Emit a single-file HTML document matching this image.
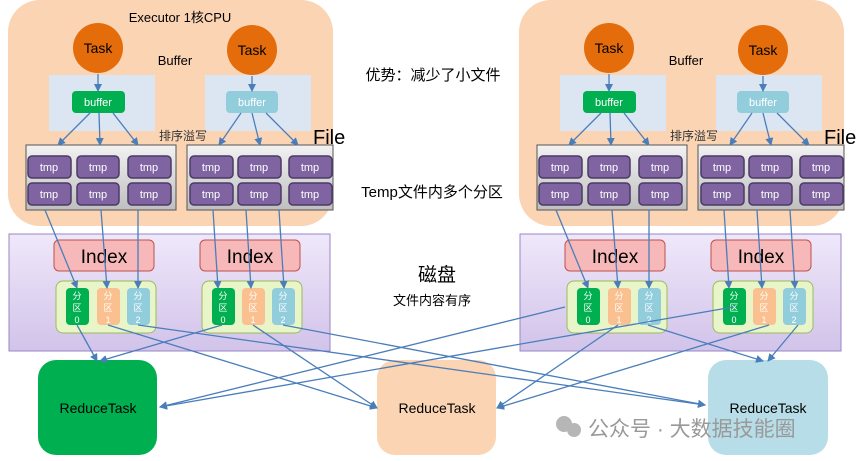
<!DOCTYPE html>
<html><head><meta charset="utf-8"><style>
body{margin:0;background:#fff}
svg{display:block}
text{font-family:"Liberation Sans","Noto Sans CJK SC",sans-serif}
</style></head><body>
<svg width="865" height="461" viewBox="0 0 865 461" xmlns="http://www.w3.org/2000/svg">
<defs>
<marker id="a" markerWidth="8" markerHeight="8" refX="7" refY="4" orient="auto" markerUnits="userSpaceOnUse"><path d="M0,0 L8,4 L0,8 z" fill="#4a7ebb"/></marker>
<linearGradient id="g" x1="0" y1="0" x2="0" y2="1"><stop offset="0" stop-color="#f2f2f2"/><stop offset="1" stop-color="#bfbfbf"/></linearGradient>
<linearGradient id="d" x1="0" y1="0" x2="0" y2="1"><stop offset="0" stop-color="#efe8fa"/><stop offset="1" stop-color="#d2c3ea"/></linearGradient>
</defs>
<g>
<rect x="8" y="0" width="325" height="226" rx="32" fill="#fbd4b4"/>
<circle cx="98" cy="48" r="25" fill="#e46c0a"/><text x="98" y="53" font-size="14" text-anchor="middle">Task</text>
<circle cx="252" cy="50" r="25" fill="#e46c0a"/><text x="252" y="55" font-size="14" text-anchor="middle">Task</text>
<text x="175" y="65" font-size="13" text-anchor="middle">Buffer</text>
<rect x="49" y="75" width="106" height="56" fill="#dce6f2"/>
<rect x="205" y="75" width="106" height="56" fill="#dce6f2"/>
<rect x="72" y="91" width="53" height="22" rx="4" fill="#00b050"/><text x="98" y="106" font-size="11" fill="#fff" text-anchor="middle">buffer</text>
<rect x="226" y="91" width="52" height="22" rx="4" fill="#92cddc"/><text x="252" y="106" font-size="11" fill="#fff" text-anchor="middle">buffer</text>
<text x="183" y="140" font-size="12" text-anchor="middle" fill="#333">排序溢写</text>
<text x="313" y="144" font-size="20">File</text>
<rect x="26" y="145" width="150" height="65" fill="url(#g)" stroke="#555"/>
<rect x="187" y="145" width="146" height="65" fill="url(#g)" stroke="#555"/>
<g fill="#8064a2" stroke="#4b3a66" stroke-width="1.5">
<rect x="28" y="156" width="43" height="22" rx="4"/><rect x="77" y="156" width="42" height="22" rx="4"/><rect x="128" y="156" width="43" height="22" rx="4"/>
<rect x="28" y="183" width="43" height="22" rx="4"/><rect x="77" y="183" width="42" height="22" rx="4"/><rect x="128" y="183" width="43" height="22" rx="4"/>
<rect x="190" y="156" width="43" height="22" rx="4"/><rect x="238" y="156" width="43" height="22" rx="4"/><rect x="289" y="156" width="43" height="22" rx="4"/>
<rect x="190" y="183" width="43" height="22" rx="4"/><rect x="238" y="183" width="43" height="22" rx="4"/><rect x="289" y="183" width="43" height="22" rx="4"/>
</g>
<g fill="#fff" font-size="11" text-anchor="middle">
<text x="49" y="171">tmp</text><text x="98" y="171">tmp</text><text x="149" y="171">tmp</text>
<text x="49" y="198">tmp</text><text x="98" y="198">tmp</text><text x="149" y="198">tmp</text>
<text x="211" y="171">tmp</text><text x="259" y="171">tmp</text><text x="310" y="171">tmp</text>
<text x="211" y="198">tmp</text><text x="259" y="198">tmp</text><text x="310" y="198">tmp</text>
</g>
<rect x="9" y="234" width="321" height="117" fill="url(#d)" stroke="#9a86c4"/>
<rect x="54" y="240" width="100" height="31" rx="5" fill="#f6b8b8" stroke="#c0504d"/><text x="104" y="263" font-size="19" text-anchor="middle">Index</text>
<rect x="200" y="240" width="100" height="31" rx="5" fill="#f6b8b8" stroke="#c0504d"/><text x="250" y="263" font-size="19" text-anchor="middle">Index</text>
<rect x="56" y="281" width="100" height="52" rx="7" fill="#e8f5c8" stroke="#9bbb59"/>
<rect x="202" y="281" width="100" height="52" rx="7" fill="#e8f5c8" stroke="#9bbb59"/>
<rect x="66" y="288" width="23" height="37" rx="4" fill="#00b050"/><rect x="97" y="288" width="23" height="37" rx="4" fill="#fac090"/><rect x="127" y="288" width="23" height="37" rx="4" fill="#92cddc"/>
<rect x="212" y="288" width="23" height="37" rx="4" fill="#00b050"/><rect x="242" y="288" width="23" height="37" rx="4" fill="#fac090"/><rect x="272" y="288" width="23" height="37" rx="4" fill="#92cddc"/>
<g fill="#fff" font-size="9" text-anchor="middle">
<text x="77" y="299">分</text><text x="77" y="311">区</text><text x="77" y="323">0</text>
<text x="108" y="299">分</text><text x="108" y="311">区</text><text x="108" y="323">1</text>
<text x="138" y="299">分</text><text x="138" y="311">区</text><text x="138" y="323">2</text>
<text x="223" y="299">分</text><text x="223" y="311">区</text><text x="223" y="323">0</text>
<text x="253" y="299">分</text><text x="253" y="311">区</text><text x="253" y="323">1</text>
<text x="283" y="299">分</text><text x="283" y="311">区</text><text x="283" y="323">2</text>
</g>
<g stroke="#4a7ebb" stroke-width="1.3" fill="none" marker-end="url(#a)">
<line x1="98" y1="74" x2="98" y2="91"/><line x1="252" y1="76" x2="252" y2="91"/>
<line x1="90" y1="113" x2="58" y2="145"/><line x1="99" y1="113" x2="100" y2="145"/><line x1="113" y1="113" x2="138" y2="145"/>
<line x1="241" y1="113" x2="219" y2="145"/><line x1="252" y1="113" x2="260" y2="145"/><line x1="266" y1="113" x2="298" y2="145"/>
<line x1="45" y1="210" x2="77" y2="288"/><line x1="101" y1="210" x2="107" y2="288"/><line x1="138" y1="210" x2="138" y2="288"/>
<line x1="213" y1="210" x2="218" y2="288"/><line x1="246" y1="210" x2="251" y2="288"/><line x1="279" y1="210" x2="284" y2="288"/>
</g>
</g>
<g transform="translate(511,0)">
<rect x="8" y="0" width="325" height="226" rx="32" fill="#fbd4b4"/>
<circle cx="98" cy="48" r="25" fill="#e46c0a"/><text x="98" y="53" font-size="14" text-anchor="middle">Task</text>
<circle cx="252" cy="50" r="25" fill="#e46c0a"/><text x="252" y="55" font-size="14" text-anchor="middle">Task</text>
<text x="175" y="65" font-size="13" text-anchor="middle">Buffer</text>
<rect x="49" y="75" width="106" height="56" fill="#dce6f2"/>
<rect x="205" y="75" width="106" height="56" fill="#dce6f2"/>
<rect x="72" y="91" width="53" height="22" rx="4" fill="#00b050"/><text x="98" y="106" font-size="11" fill="#fff" text-anchor="middle">buffer</text>
<rect x="226" y="91" width="52" height="22" rx="4" fill="#92cddc"/><text x="252" y="106" font-size="11" fill="#fff" text-anchor="middle">buffer</text>
<text x="183" y="140" font-size="12" text-anchor="middle" fill="#333">排序溢写</text>
<text x="313" y="144" font-size="20">File</text>
<rect x="26" y="145" width="150" height="65" fill="url(#g)" stroke="#555"/>
<rect x="187" y="145" width="146" height="65" fill="url(#g)" stroke="#555"/>
<g fill="#8064a2" stroke="#4b3a66" stroke-width="1.5">
<rect x="28" y="156" width="43" height="22" rx="4"/><rect x="77" y="156" width="42" height="22" rx="4"/><rect x="128" y="156" width="43" height="22" rx="4"/>
<rect x="28" y="183" width="43" height="22" rx="4"/><rect x="77" y="183" width="42" height="22" rx="4"/><rect x="128" y="183" width="43" height="22" rx="4"/>
<rect x="190" y="156" width="43" height="22" rx="4"/><rect x="238" y="156" width="43" height="22" rx="4"/><rect x="289" y="156" width="43" height="22" rx="4"/>
<rect x="190" y="183" width="43" height="22" rx="4"/><rect x="238" y="183" width="43" height="22" rx="4"/><rect x="289" y="183" width="43" height="22" rx="4"/>
</g>
<g fill="#fff" font-size="11" text-anchor="middle">
<text x="49" y="171">tmp</text><text x="98" y="171">tmp</text><text x="149" y="171">tmp</text>
<text x="49" y="198">tmp</text><text x="98" y="198">tmp</text><text x="149" y="198">tmp</text>
<text x="211" y="171">tmp</text><text x="259" y="171">tmp</text><text x="310" y="171">tmp</text>
<text x="211" y="198">tmp</text><text x="259" y="198">tmp</text><text x="310" y="198">tmp</text>
</g>
<rect x="9" y="234" width="321" height="117" fill="url(#d)" stroke="#9a86c4"/>
<rect x="54" y="240" width="100" height="31" rx="5" fill="#f6b8b8" stroke="#c0504d"/><text x="104" y="263" font-size="19" text-anchor="middle">Index</text>
<rect x="200" y="240" width="100" height="31" rx="5" fill="#f6b8b8" stroke="#c0504d"/><text x="250" y="263" font-size="19" text-anchor="middle">Index</text>
<rect x="56" y="281" width="100" height="52" rx="7" fill="#e8f5c8" stroke="#9bbb59"/>
<rect x="202" y="281" width="100" height="52" rx="7" fill="#e8f5c8" stroke="#9bbb59"/>
<rect x="66" y="288" width="23" height="37" rx="4" fill="#00b050"/><rect x="97" y="288" width="23" height="37" rx="4" fill="#fac090"/><rect x="127" y="288" width="23" height="37" rx="4" fill="#92cddc"/>
<rect x="212" y="288" width="23" height="37" rx="4" fill="#00b050"/><rect x="242" y="288" width="23" height="37" rx="4" fill="#fac090"/><rect x="272" y="288" width="23" height="37" rx="4" fill="#92cddc"/>
<g fill="#fff" font-size="9" text-anchor="middle">
<text x="77" y="299">分</text><text x="77" y="311">区</text><text x="77" y="323">0</text>
<text x="108" y="299">分</text><text x="108" y="311">区</text><text x="108" y="323">1</text>
<text x="138" y="299">分</text><text x="138" y="311">区</text><text x="138" y="323">2</text>
<text x="223" y="299">分</text><text x="223" y="311">区</text><text x="223" y="323">0</text>
<text x="253" y="299">分</text><text x="253" y="311">区</text><text x="253" y="323">1</text>
<text x="283" y="299">分</text><text x="283" y="311">区</text><text x="283" y="323">2</text>
</g>
<g stroke="#4a7ebb" stroke-width="1.3" fill="none" marker-end="url(#a)">
<line x1="98" y1="74" x2="98" y2="91"/><line x1="252" y1="76" x2="252" y2="91"/>
<line x1="90" y1="113" x2="58" y2="145"/><line x1="99" y1="113" x2="100" y2="145"/><line x1="113" y1="113" x2="138" y2="145"/>
<line x1="241" y1="113" x2="219" y2="145"/><line x1="252" y1="113" x2="260" y2="145"/><line x1="266" y1="113" x2="298" y2="145"/>
<line x1="45" y1="210" x2="77" y2="288"/><line x1="101" y1="210" x2="107" y2="288"/><line x1="138" y1="210" x2="138" y2="288"/>
<line x1="213" y1="210" x2="218" y2="288"/><line x1="246" y1="210" x2="251" y2="288"/><line x1="279" y1="210" x2="284" y2="288"/>
</g>
</g>
<rect x="38" y="360" width="119" height="95" rx="18" fill="#00b050"/><text x="98" y="413" font-size="14" text-anchor="middle">ReduceTask</text>
<rect x="377" y="360" width="119" height="95" rx="18" fill="#fbd4b4"/><text x="437" y="413" font-size="14" text-anchor="middle">ReduceTask</text>
<rect x="708" y="360" width="120" height="95" rx="18" fill="#b7dee8"/><text x="768" y="413" font-size="14" text-anchor="middle">ReduceTask</text>
<g stroke="#4a7ebb" stroke-width="1.3" fill="none" marker-end="url(#a)">
<line x1="77" y1="325" x2="97" y2="361"/><line x1="222" y1="325" x2="100" y2="361"/>
<line x1="565" y1="307" x2="160" y2="407"/><line x1="733" y1="307" x2="160" y2="407"/>
<line x1="108" y1="325" x2="377" y2="408"/><line x1="253" y1="325" x2="377" y2="408"/>
<line x1="618" y1="325" x2="497" y2="408"/><line x1="769" y1="325" x2="497" y2="408"/>
<line x1="138" y1="325" x2="705" y2="405"/><line x1="283" y1="325" x2="705" y2="405"/>
<line x1="648" y1="325" x2="763" y2="361"/><line x1="798" y1="325" x2="768" y2="361"/>
</g>
<text x="180" y="22" font-size="13" text-anchor="middle">Executor 1核CPU</text>
<text x="433" y="80" font-size="15" text-anchor="middle">优势：减少了小文件</text>
<text x="432" y="197" font-size="15" text-anchor="middle">Temp文件内多个分区</text>
<text x="437" y="281" font-size="19" text-anchor="middle">磁盘</text>
<text x="432" y="305" font-size="13" text-anchor="middle">文件内容有序</text>
<g fill="#aaa" opacity="0.85"><circle cx="564" cy="424" r="8"/><circle cx="574" cy="430" r="7"/></g>
<text x="588" y="436" font-size="21" fill="#999">公众号 · 大数据技能圈</text>
</svg>
</body></html>
